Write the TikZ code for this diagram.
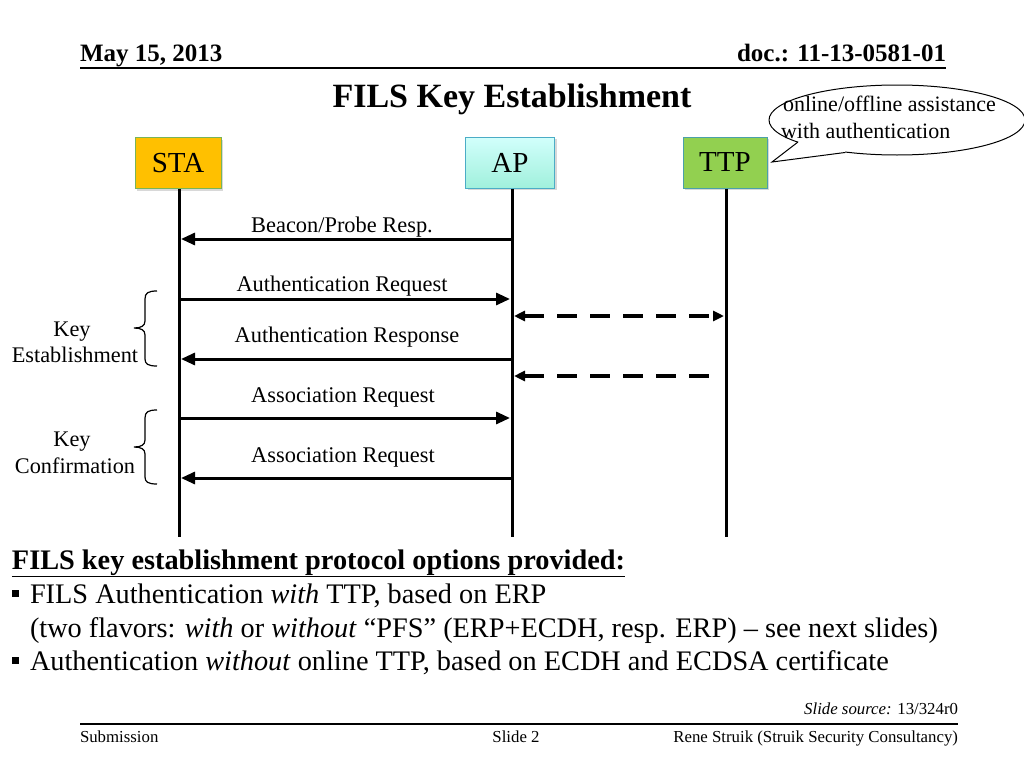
\documentclass[tikz,border=0pt]{standalone}
\usepackage{fontspec}
\setmainfont{Liberation Serif}
\usetikzlibrary{arrows.meta,shadows,calc}
\definecolor{staorange}{RGB}{255,192,0}
\definecolor{staborder}{RGB}{120,180,90}
\definecolor{aptop}{RGB}{210,255,252}
\definecolor{apbot}{RGB}{160,240,220}
\definecolor{apborder}{RGB}{75,172,198}
\definecolor{ttpgreen}{RGB}{146,208,80}
\definecolor{ttpborder}{RGB}{75,160,170}
\tikzset{
  txt/.style={inner sep=0pt,outer sep=0pt},
  entity/.style={draw,line width=1pt,minimum height=51pt,inner sep=0pt,
     font=\fontsize{29}{32}\selectfont,
     drop shadow={shadow xshift=2pt,shadow yshift=-2pt,opacity=0.3}},
  lifeline/.style={line width=3pt},
  msg/.style={line width=3pt,-{Triangle[length=14pt,width=12pt]}},
  msglabel/.style={txt,anchor=base,font=\fontsize{22.4}{24}\selectfont},
  dmsg/.style={line width=3.5pt,dash pattern=on 20pt off 13pt},
  bracelabel/.style={txt,anchor=base,font=\fontsize{22.3}{24}\selectfont},
  bracepath/.style={line width=1.2pt},
  rule/.style={line width=2pt},
  small/.style={txt,font=\fontsize{16.8}{18}\selectfont},
  body/.style={txt,anchor=base west,font=\fontsize{28.3}{30}\selectfont},
}
\begin{document}
\begin{tikzpicture}[x=1pt,y=-1pt]
\useasboundingbox[fill=white] (0,0) rectangle (1024,768);

% header
\node[txt,anchor=base west,font=\bfseries\fontsize{25}{28}\selectfont] (date) at (80,62) {May 15, 2013};
\node[txt,anchor=base east,font=\bfseries\fontsize{25}{28}\selectfont] (doc) at (946,62) {doc.: 11-13-0581-01};
\coordinate (hl) at (80,68);
\coordinate (hr) at (946,68);
\draw[rule] (hl) -- (hr);
\node[txt,anchor=base,font=\bfseries\fontsize{34}{38}\selectfont] (title) at (512,107) {FILS Key Establishment};

% entities
\node[entity,fill=staorange,draw=staborder,minimum width=86pt] (sta) at (178,163) {STA};
\node[entity,top color=aptop,bottom color=apbot,draw=apborder,minimum width=89pt] (ap) at (510,162.5) {AP};
\node[entity,fill=ttpgreen,draw=ttpborder,minimum width=84pt] (ttp) at (725,162.5) {TTP};

% lifelines
\coordinate (staend) at (179,537);
\coordinate (apend) at (512,537);
\coordinate (ttpend) at (726,537);
\draw[lifeline] (sta.south -| staend) -- (staend);
\draw[lifeline] (ap.south -| apend) -- (apend);
\draw[lifeline] (ttp.south -| ttpend) -- (ttpend);

% message points
\coordinate (s1) at (181,239); \coordinate (a1) at (512,239);
\coordinate (s2) at (179,299); \coordinate (a2) at (510,299);
\coordinate (s3) at (181,359); \coordinate (a3) at (512,359);
\coordinate (s4) at (179,418); \coordinate (a4) at (510,418);
\coordinate (s5) at (181,478); \coordinate (a5) at (512,478);
\coordinate (d1a) at (514,316); \coordinate (d1t) at (724,316);
\coordinate (d2a) at (514,376); \coordinate (d2t) at (715,376);

\draw[msg] (a1) -- (s1);
\node[msglabel] (l1) at (342,232) {Beacon/Probe Resp.};
\draw[msg] (s2) -- (a2);
\node[msglabel] (l2) at (342,291) {Authentication Request};
\draw[dmsg,{Triangle[length=11pt,width=10pt]}-{Triangle[length=11pt,width=10pt]}] (d1a) -- (d1t);
\draw[msg] (a3) -- (s3);
\node[msglabel] (l3) at (347,342) {Authentication Response};
\draw[dmsg,{Triangle[length=11pt,width=10pt]}-] (d2a) -- (d2t);
\draw[msg] (s4) -- (a4);
\node[msglabel] (l4) at (343,402) {Association Request};
\draw[msg] (a5) -- (s5);
\node[msglabel] (l5) at (343,462) {Association Request};

% braces
\draw[bracepath] (157,291) .. controls (148,291) and (145,293) .. (145,299) -- (145,321)
  .. controls (145,326) and (141,328) .. (134,328)
  .. controls (141,328) and (145,330) .. (145,335) -- (145,359)
  .. controls (145,364) and (148,366) .. (157,366);
\node[bracelabel] (k1) at (72,336) {Key};
\node[bracelabel] (k1b) at (75,362) {Establishment};
\draw[bracepath] (157,410) .. controls (148,410) and (145,412) .. (145,418) -- (145,440)
  .. controls (145,445) and (141,447) .. (134,447)
  .. controls (141,447) and (145,449) .. (145,454) -- (145,477)
  .. controls (145,482) and (148,484) .. (157,484);
\node[bracelabel] (k2) at (72,446) {Key};
\node[bracelabel] (k2b) at (75,473) {Confirmation};

% callout
\coordinate (cc) at (897,120);
\draw[line width=1pt,fill=white] (cc) ellipse [x radius=128, y radius=35];
\coordinate (tip) at (772,162);
\coordinate (t1) at (798,142);
\coordinate (t2) at (845,152.5);
\fill[white] (t1) -- (tip) -- (t2) -- ($(t2)+(0,-3)$) -- ($(t1)+(3,-3)$) -- cycle;
\draw[line width=1pt] (t1) -- (tip) -- (t2);
\node[txt,anchor=base west,font=\fontsize{22}{24}\selectfont] (c1) at (783,111) {online/offline assistance};
\node[txt,anchor=base west,font=\fontsize{22}{24}\selectfont] (c2) at (781,138) {with authentication};

% bottom text
\node[txt,anchor=base west,font=\bfseries\fontsize{28.3}{30}\selectfont] (opt) at (12,569) {\underline{FILS key establishment protocol options provided:}};
\fill (12,590) rectangle (19,597);
\node[body] (b1) at (30,603) {FILS Authentication \textit{with} TTP, based on ERP};
\node[body] (b2) at (30,637) {(two flavors: \textit{with} or \textit{without} “PFS” (ERP+ECDH, resp. ERP) – see next slides)};
\fill (12,657) rectangle (19,664);
\node[body] (b3) at (30,670) {Authentication \textit{without} online TTP, based on ECDH and ECDSA certificate};

% footer
\node[small,anchor=base east] (src) at (958,714) {\textit{Slide source:} 13/324r0};
\coordinate (fl) at (80,724);
\coordinate (fr) at (958,724);
\draw[rule] (fl) -- (fr);
\node[small,anchor=base west] (sub) at (80,742) {Submission};
\node[small,anchor=base] (sl) at (516,742) {Slide 2};
\node[small,anchor=base east] (auth) at (958,742) {Rene Struik (Struik Security Consultancy)};
\end{tikzpicture}
\end{document}
